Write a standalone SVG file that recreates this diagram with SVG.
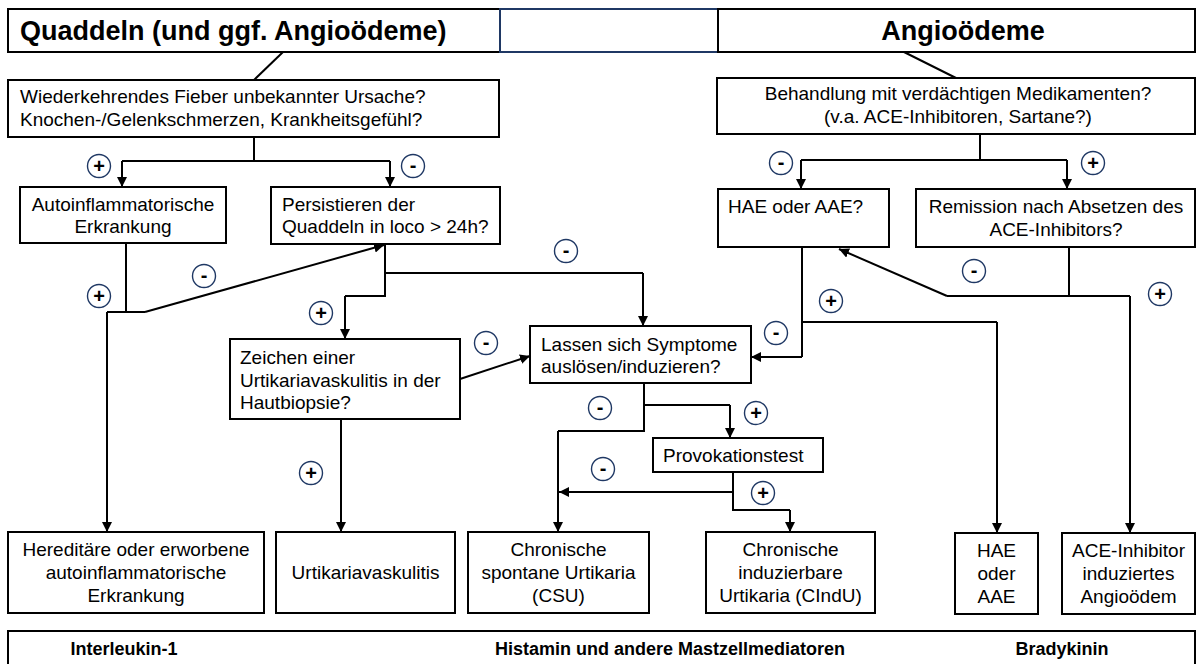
<svg xmlns="http://www.w3.org/2000/svg" width="1203" height="664" viewBox="0 0 1203 664">
<defs>
<marker id="ah" viewBox="0 0 10 10" refX="10" refY="5" markerWidth="5" markerHeight="5" orient="auto" markerUnits="strokeWidth">
<path d="M0,0 L10,5 L0,10 z" fill="#000"/>
</marker>
<style>
.box{fill:#fff;stroke:#000;stroke-width:2}
.hbox{fill:#fff;stroke:#1f3864;stroke-width:2}
.t{font-family:"Liberation Sans",Arial,sans-serif;font-size:19px;fill:#000}
.c{text-anchor:middle}
.title{font-family:"Liberation Sans",Arial,sans-serif;font-size:27px;font-weight:bold;fill:#000}
.foot{font-family:"Liberation Sans",Arial,sans-serif;font-size:18px;font-weight:bold;fill:#000;text-anchor:middle}
.ln{fill:none;stroke:#000;stroke-width:2}
.ar{fill:none;stroke:#000;stroke-width:2;marker-end:url(#ah)}
.ci{fill:#fff;stroke:#1f3864;stroke-width:1.4}
.sg{font-family:"Liberation Sans",Arial,sans-serif;font-size:20px;font-weight:bold;fill:#000;text-anchor:middle}
</style>
</defs>
<rect width="1203" height="664" fill="#fff"/>

<g id="connectors">
<path class="ln" d="M283,52 L254,80"/>
<path class="ln" d="M904,52 L956,78"/>
<path class="ln" d="M254,137 V161 M122,161 H390"/>
<path class="ar" d="M122,161 V187"/>
<path class="ar" d="M390,161 V187"/>
<path class="ln" d="M126,243 V312 M107,312 H145"/>
<path class="ar" d="M107,312 V532"/>
<path class="ar" d="M145,312 L384,245"/>
<path class="ln" d="M385,244 V296 H345"/>
<path class="ar" d="M345,296 V339"/>
<path class="ln" d="M385,273 H643"/>
<path class="ar" d="M643,273 V326"/>
<path class="ar" d="M460,379 L530,356"/>
<path class="ar" d="M341,419 V532"/>
<path class="ln" d="M644,383 V431 H558"/>
<path class="ar" d="M558,431 V532"/>
<path class="ln" d="M644,405 H730"/>
<path class="ar" d="M730,405 V438"/>
<path class="ln" d="M733,472 V510 H790"/>
<path class="ar" d="M790,510 V532"/>
<path class="ar" d="M733,492 H559"/>
<path class="ln" d="M980,134 V160 M801,160 H1067"/>
<path class="ar" d="M801,160 V189"/>
<path class="ar" d="M1067,160 V189"/>
<path class="ln" d="M802,247 V357"/>
<path class="ar" d="M802,357 H751"/>
<path class="ln" d="M802,322 H997"/>
<path class="ar" d="M997,322 V533"/>
<path class="ln" d="M1069,247 V296 M947,296 H1130"/>
<path class="ar" d="M1130,296 V533"/>
<path class="ar" d="M947,296 L839,249"/>
</g>

<g id="header-left">
<rect class="box" x="8" y="9" width="492" height="43"/>
<text class="title" x="20" y="40">Quaddeln (und ggf. Angioödeme)</text>
</g>
<g id="header-mid">
<rect class="hbox" x="500" y="9" width="218" height="43"/>
</g>
<g id="header-right">
<rect class="box" x="718" y="9" width="477" height="43"/>
<text class="title" x="963" y="40" text-anchor="middle">Angioödeme</text>
</g>

<g id="n-fieber">
<rect class="box" x="8" y="80" width="491" height="57"/>
<text class="t" x="20" y="103">Wiederkehrendes Fieber unbekannter Ursache?</text>
<text class="t" x="20" y="126">Knochen-/Gelenkschmerzen, Krankheitsgefühl?</text>
</g>
<g id="n-behandlung">
<rect class="box" x="717" y="78" width="478" height="56"/>
<text class="t c" x="958" y="100">Behandlung mit verdächtigen Medikamenten?</text>
<text class="t c" x="958" y="123">(v.a. ACE-Inhibitoren, Sartane?)</text>
</g>
<g id="n-autoinfl">
<rect class="box" x="20" y="187" width="206" height="56"/>
<text class="t c" x="123" y="211">Autoinflammatorische</text>
<text class="t c" x="123" y="233">Erkrankung</text>
</g>
<g id="n-persist">
<rect class="box" x="271" y="187" width="229" height="57"/>
<text class="t" x="282" y="211">Persistieren der</text>
<text class="t" x="282" y="233">Quaddeln in loco &gt; 24h?</text>
</g>
<g id="n-hae-q">
<rect class="box" x="718" y="189" width="171" height="58"/>
<text class="t" x="728" y="213">HAE oder AAE?</text>
</g>
<g id="n-remission">
<rect class="box" x="916" y="189" width="279" height="58"/>
<text class="t c" x="1056" y="213">Remission nach Absetzen des</text>
<text class="t c" x="1056" y="236">ACE-Inhibitors?</text>
</g>
<g id="n-zeichen">
<rect class="box" x="230" y="339" width="230" height="80"/>
<text class="t" x="240" y="364">Zeichen einer</text>
<text class="t" x="240" y="387">Urtikariavaskulitis in der</text>
<text class="t" x="240" y="409">Hautbiopsie?</text>
</g>
<g id="n-lassen">
<rect class="box" x="530" y="326" width="221" height="57"/>
<text class="t" x="541" y="351">Lassen sich Symptome</text>
<text class="t" x="541" y="373">auslösen/induzieren?</text>
</g>
<g id="n-provok">
<rect class="box" x="653" y="438" width="170" height="34"/>
<text class="t" x="663" y="462">Provokationstest</text>
</g>
<g id="n-hereditaer">
<rect class="box" x="8" y="532" width="256" height="81"/>
<text class="t c" x="136" y="556">Hereditäre oder erworbene</text>
<text class="t c" x="136" y="579">autoinflammatorische</text>
<text class="t c" x="136" y="602">Erkrankung</text>
</g>
<g id="n-uv">
<rect class="box" x="276" y="532" width="179" height="81"/>
<text class="t c" x="365.5" y="579">Urtikariavaskulitis</text>
</g>
<g id="n-csu">
<rect class="box" x="468" y="532" width="181" height="81"/>
<text class="t c" x="558.5" y="556">Chronische</text>
<text class="t c" x="558.5" y="579">spontane Urtikaria</text>
<text class="t c" x="558.5" y="602">(CSU)</text>
</g>
<g id="n-cindu">
<rect class="box" x="706" y="532" width="169" height="81"/>
<text class="t c" x="790.5" y="556">Chronische</text>
<text class="t c" x="790.5" y="579">induzierbare</text>
<text class="t c" x="790.5" y="602">Urtikaria (CIndU)</text>
</g>
<g id="n-hae">
<rect class="box" x="955" y="533" width="83" height="81"/>
<text class="t c" x="996.5" y="557">HAE</text>
<text class="t c" x="996.5" y="580">oder</text>
<text class="t c" x="996.5" y="603">AAE</text>
</g>
<g id="n-ace">
<rect class="box" x="1062" y="533" width="133" height="81"/>
<text class="t c" x="1128.5" y="557">ACE-Inhibitor</text>
<text class="t c" x="1128.5" y="580">induziertes</text>
<text class="t c" x="1128.5" y="603">Angioödem</text>
</g>
<g id="footer">
<rect class="box" x="8" y="631" width="1187" height="50"/>
<text class="foot" x="124" y="655">Interleukin-1</text>
<text class="foot" x="670" y="655">Histamin und andere Mastzellmediatoren</text>
<text class="foot" x="1062" y="655">Bradykinin</text>
</g>

<g id="signs">
<circle class="ci" cx="99" cy="166" r="11.5"/><text class="sg" x="99" y="173">+</text>
<circle class="ci" cx="413" cy="166" r="11.5"/><text class="sg" x="413" y="172">-</text>
<circle class="ci" cx="99" cy="296" r="11.5"/><text class="sg" x="99" y="303">+</text>
<circle class="ci" cx="204" cy="276" r="11.5"/><text class="sg" x="204" y="282">-</text>
<circle class="ci" cx="321" cy="313" r="11.5"/><text class="sg" x="321" y="320">+</text>
<circle class="ci" cx="566" cy="251" r="11.5"/><text class="sg" x="566" y="257">-</text>
<circle class="ci" cx="486" cy="343" r="11.5"/><text class="sg" x="486" y="349">-</text>
<circle class="ci" cx="600" cy="408" r="11.5"/><text class="sg" x="600" y="414">-</text>
<circle class="ci" cx="756" cy="413" r="11.5"/><text class="sg" x="756" y="420">+</text>
<circle class="ci" cx="603" cy="469" r="11.5"/><text class="sg" x="603" y="475">-</text>
<circle class="ci" cx="763" cy="493" r="11.5"/><text class="sg" x="763" y="500">+</text>
<circle class="ci" cx="311" cy="473" r="11.5"/><text class="sg" x="311" y="480">+</text>
<circle class="ci" cx="781" cy="163" r="11.5"/><text class="sg" x="781" y="169">-</text>
<circle class="ci" cx="1093" cy="163" r="11.5"/><text class="sg" x="1093" y="170">+</text>
<circle class="ci" cx="974" cy="271" r="11.5"/><text class="sg" x="974" y="277">-</text>
<circle class="ci" cx="1160" cy="294" r="11.5"/><text class="sg" x="1160" y="301">+</text>
<circle class="ci" cx="831" cy="301" r="11.5"/><text class="sg" x="831" y="308">+</text>
<circle class="ci" cx="776" cy="333" r="11.5"/><text class="sg" x="776" y="339">-</text>
</g>
</svg>
